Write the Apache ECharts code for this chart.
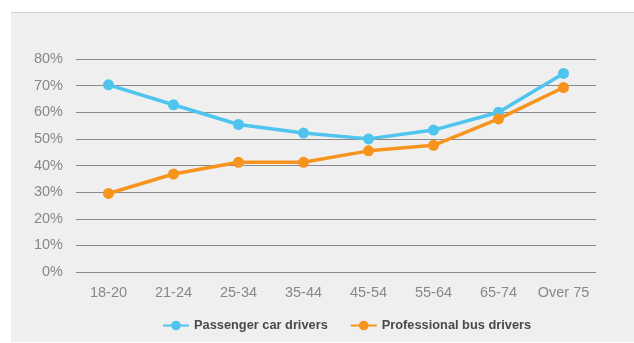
<!DOCTYPE html>
<html><head><meta charset="utf-8">
<script src="https://cdn.jsdelivr.net/npm/echarts@6/dist/echarts.min.js"></script>
<style>html,body{margin:0;padding:0;background:#fff}#c{width:634px;height:343px}</style>
</head><body><div id="c"></div>
<script>
const categories = ['18-20','21-24','25-34','35-44','45-54','55-64','65-74','Over 75'];
const passengerCar = [70.3, 62.8, 55.4, 52.2, 50.0, 53.3, 60.0, 74.6];
const professionalBus = [29.5, 36.8, 41.2, 41.2, 45.5, 47.6, 57.5, 69.3];
const yTicks = [0,10,20,30,40,50,60,70,80];

const chart = echarts.init(document.getElementById('c'));
chart.setOption({
  backgroundColor: '#ffffff',
  animation: false,
  graphic: [
    {type:'rect', shape:{x:11,y:12,width:623,height:330}, style:{fill:'#efeff0'}, z:-10},
    {type:'line', shape:{x1:11,y1:12.5,x2:634,y2:12.5}, style:{stroke:'#cfcfcf',lineWidth:1}, z:-9}
  ],
  grid: {left:76, right:38, top:59, bottom:71},
  legend: {
    left: 157, top: 314,
    itemWidth: 26, itemHeight: 12, itemGap: 22,
    textStyle: {fontFamily:'Liberation Sans', fontWeight:'bold', fontSize:12.8, color:'#4a4a4a'},
    data: ['Passenger car drivers','Professional bus drivers']
  },
  xAxis: {
    type:'category', data: categories, boundaryGap:true,
    axisLine:{show:false}, axisTick:{show:false},
    axisLabel:{interval:0, hideOverlap:false, color:'#888', fontSize:14.5, fontFamily:'Liberation Sans', margin:13}
  },
  yAxis: {
    type:'value', min:yTicks[0], max:yTicks[yTicks.length-1], interval:10,
    axisLine:{show:false}, axisTick:{show:false},
    axisLabel:{color:'#888', fontSize:14.5, fontFamily:'Liberation Sans', formatter:'{value}%', margin:13},
    splitLine:{lineStyle:{color:'#8a8a8a', width:1}}
  },
  series: [
    {name:'Passenger car drivers', type:'line', data: passengerCar, color:'#4ec4ee',
     symbol:'circle', symbolSize:11, lineStyle:{width:3.5}},
    {name:'Professional bus drivers', type:'line', data: professionalBus, color:'#f7941d',
     symbol:'circle', symbolSize:11, lineStyle:{width:3.5}}
  ]
});
</script></body></html>
